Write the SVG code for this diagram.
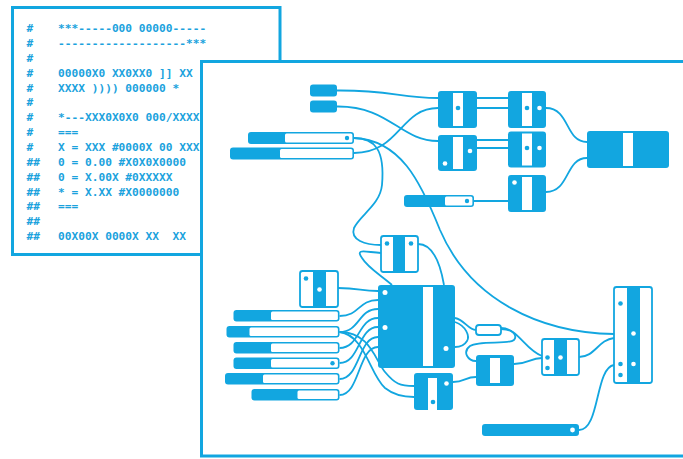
<svg xmlns="http://www.w3.org/2000/svg" width="683" height="459" viewBox="0 0 683 459">
<style>
.panel{fill:#fff;stroke:#12a6e0;stroke-width:3}
.t{font-family:"DejaVu Sans Mono","Liberation Mono",monospace;font-size:11.2px;font-weight:bold;fill:#1ba2dd;white-space:pre}
.w{fill:none;stroke:#12a6e0;stroke-width:1.8}
.f{fill:#12a6e0}
.o{fill:#fff;stroke:#12a6e0;stroke-width:1.8}
.s{fill:#fff}
.d{fill:#12a6e0}
</style>
<rect class="panel" x="12.5" y="7.5" width="267.5" height="247"/>
<g id="code">
<text class="t" x="26.5" y="32.1">#</text><text class="t" x="58" y="32.1">***-----000 00000-----</text>
<text class="t" x="26.5" y="47">#</text><text class="t" x="58" y="47">-------------------***</text>
<text class="t" x="26.5" y="61.8">#</text>
<text class="t" x="26.5" y="76.7">#</text><text class="t" x="58" y="76.7">00000X0 XX0XX0 ]] XX</text>
<text class="t" x="26.5" y="91.5">#</text><text class="t" x="58" y="91.5">XXXX )))) 000000 *</text>
<text class="t" x="26.5" y="106.4">#</text>
<text class="t" x="26.5" y="121.3">#</text><text class="t" x="58" y="121.3">*---XXX0X0X0 000/XXXX</text>
<text class="t" x="26.5" y="136.1">#</text><text class="t" x="58" y="136.1">===</text>
<text class="t" x="26.5" y="151">#</text><text class="t" x="58" y="151">X = XXX #0000X 00 XXX</text>
<text class="t" x="26.5" y="165.8">##</text><text class="t" x="58" y="165.8">0 = 0.00 #X0X0X0000</text>
<text class="t" x="26.5" y="180.7">##</text><text class="t" x="58" y="180.7">0 = X.00X #0XXXXX</text>
<text class="t" x="26.5" y="195.6">##</text><text class="t" x="58" y="195.6">* = X.XX #X0000000</text>
<text class="t" x="26.5" y="210.4">##</text><text class="t" x="58" y="210.4">===</text>
<text class="t" x="26.5" y="225.3">##</text>
<text class="t" x="26.5" y="240.1">##</text><text class="t" x="58" y="240.1">00X00X 0000X XX  XX</text>
</g>
<rect class="panel" x="201.5" y="61.5" width="500" height="394.5"/>
<g id="connectors">
<path class="w" d="M337,90.5 C390,90 400,98 438,98"/>
<path class="w" d="M337,106.5 C390,106 400,141 438,141"/>
<path class="w" d="M354,153 C400,153 400,108 438,108"/>
<path class="w" d="M477,98 H508 M477,108 H508"/>
<path class="w" d="M477,140 H508 M477,148 H508"/>
<path class="w" d="M546,108 C570,108 565,142 587,142"/>
<path class="w" d="M546,192 C570,192 565,158 587,158"/>
<path class="w" d="M474,201 H508"/>
<path class="w" d="M354,138 C375,138 385,150 382,185 C380,205 360,215 354,228 C350,240 365,245 381,245"/>
<path class="w" d="M381,253 C365,252 355,248 362,258 C368,268 382,276 392,285"/>
<path class="w" d="M418,244 C432,244 440,262 444,285"/>
<path class="w" d="M354,138 C400,140 420,180 440,230 C470,300 540,333 614,334"/>
<path class="w" d="M338,288 C360,288 360,291 378,291"/>
<path class="w" d="M339.5,316 C360,316 358,300 378,300"/>
<path class="w" d="M339.5,332 C360,332 358,309 378,309"/>
<path class="w" d="M339.5,348 C360,348 358,318 378,318"/>
<path class="w" d="M339.5,363 C360,363 358,327 378,327"/>
<path class="w" d="M339.5,379 C360,379 358,337 378,337"/>
<path class="w" d="M339.5,395 C360,395 358,347 378,347"/>
<path class="w" d="M339.5,332 C370,332 375,360 385,372 C395,384 400,386 414,386"/>
<path class="w" d="M339.5,332 C365,335 370,375 385,388 C395,396 405,397 414,397"/>
<path class="w" d="M455,318 C465,320 468,330 476,330"/>
<path class="w" d="M455,322 C466,326 470,336 467,341 C464,346 459,347 455,347"/>
<path class="w" d="M501,328 C518,328 525,350 542,356"/>
<path class="w" d="M501,329 C512,329 518,335 514,340 C508,345 480,340 470,346 C462,352 468,361 476,361"/>
<path class="w" d="M514,364 C528,364 530,358 542,358"/>
<path class="w" d="M453,382 C465,382 465,377 476,377"/>
<path class="w" d="M579,357 C595,357 598,340 614,338"/>
<path class="w" d="M579,430 C600,430 595,368 614,365"/>
</g>
<g id="p1"><rect class="f" x="310" y="84.5" width="27" height="12" rx="3"/></g>
<g id="p2"><rect class="f" x="310" y="100.5" width="27" height="12" rx="3"/></g>
<g id="slider1"><rect class="f" x="248" y="132" width="106" height="12" rx="3"/><rect class="s" x="285" y="133.6" width="67.4" height="8.8" rx="1.5"/><circle class="d" cx="347" cy="138" r="2.2"/></g>
<g id="slider2"><rect class="f" x="230" y="147.5" width="124" height="12" rx="3"/><rect class="s" x="280" y="149.1" width="72.4" height="8.8" rx="1.5"/></g>
<g id="slider3"><rect class="f" x="404" y="195" width="70" height="12" rx="3"/><rect class="s" x="445" y="196.6" width="27.4" height="8.8" rx="1.5"/><circle class="d" cx="467" cy="201" r="2.2"/></g>
<g id="nodeA"><rect class="f" x="438" y="91" width="39" height="37" rx="3"/><rect class="s" x="453" y="93" width="10" height="33"/><circle class="d" cx="458" cy="108" r="2.3"/></g>
<g id="nodeB"><rect class="f" x="508" y="91" width="38" height="37" rx="3"/><rect class="s" x="522" y="93" width="10" height="33"/><circle class="d" cx="527" cy="108" r="2.3"/><circle class="s" cx="539.5" cy="108" r="2.3"/></g>
<g id="nodeC"><rect class="f" x="438" y="135" width="39" height="36" rx="3"/><rect class="s" x="453" y="137" width="10" height="32"/><circle class="s" cx="470" cy="151" r="2.3"/><circle class="s" cx="445" cy="163.5" r="2.3"/></g>
<g id="nodeD"><rect class="f" x="508" y="131.5" width="38" height="36" rx="3"/><rect class="s" x="522" y="133.5" width="10" height="32"/><circle class="d" cx="527" cy="148" r="2.3"/><circle class="s" cx="539.5" cy="148" r="2.3"/></g>
<g id="nodeE"><rect class="f" x="508" y="175" width="38" height="37" rx="3"/><rect class="s" x="522" y="177" width="10" height="33"/><circle class="s" cx="514.5" cy="182.5" r="2.3"/></g>
<g id="nodeF"><rect class="f" x="587" y="131" width="82" height="37" rx="3"/><rect class="s" x="623" y="133" width="10" height="33"/></g>
<g id="nodeG"><rect class="o" x="381" y="236" width="37" height="36" rx="2.5"/><rect class="f" x="393" y="236" width="12" height="36"/><circle class="d" cx="387" cy="243.5" r="2.3"/><circle class="d" cx="411" cy="243.5" r="2.3"/></g>
<g id="nodeI"><rect class="o" x="300" y="271" width="38" height="36" rx="2.5"/><rect class="f" x="313" y="271" width="13" height="36"/><circle class="d" cx="306" cy="278.5" r="2.3"/><circle class="s" cx="319.5" cy="289.5" r="2.3"/></g>
<g id="nodeH"><rect class="f" x="378" y="285" width="77" height="83" rx="3"/><rect class="s" x="423" y="287" width="10" height="79"/><circle class="s" cx="385" cy="292.5" r="2.5"/><circle class="s" cx="385" cy="327.5" r="2.5"/><circle class="s" cx="446" cy="348.5" r="2.5"/></g>
<g id="s1"><rect class="f" x="233.5" y="310" width="106" height="11.5" rx="3"/><rect class="s" x="271" y="311.6" width="66.9" height="8.3" rx="1.5"/></g>
<g id="s2"><rect class="f" x="226.5" y="326" width="113" height="11.5" rx="3"/><rect class="s" x="249.5" y="327.6" width="88.4" height="8.3" rx="1.5"/></g>
<g id="s3"><rect class="f" x="233.5" y="342" width="106" height="11.5" rx="3"/><rect class="s" x="271" y="343.6" width="66.9" height="8.3" rx="1.5"/></g>
<g id="s4"><rect class="f" x="233.5" y="357.5" width="106" height="11.5" rx="3"/><rect class="s" x="271" y="359.1" width="66.9" height="8.3" rx="1.5"/><circle class="d" cx="332.5" cy="363.2" r="2.2"/></g>
<g id="s5"><rect class="f" x="225" y="373" width="114.5" height="11.5" rx="3"/><rect class="s" x="263" y="374.6" width="74.9" height="8.3" rx="1.5"/></g>
<g id="s6"><rect class="f" x="251.5" y="389" width="88" height="11.5" rx="3"/><rect class="s" x="297.5" y="390.6" width="40.4" height="8.3" rx="1.5"/></g>
<g id="nodeJ"><rect class="f" x="414" y="373" width="39" height="37" rx="3"/><rect class="s" x="428" y="378" width="9" height="32"/><circle class="s" cx="446.5" cy="383.5" r="2.3"/><circle class="d" cx="433" cy="402" r="2.3"/></g>
<g id="nodeL"><rect class="o" x="476" y="325" width="25" height="10" rx="3"/></g>
<g id="nodeK"><rect class="f" x="476" y="355" width="38" height="31" rx="3"/><rect class="s" x="490" y="358" width="10" height="25"/></g>
<g id="nodeM"><rect class="o" x="542" y="339" width="37" height="36" rx="2.5"/><rect class="f" x="554" y="339" width="13" height="36"/><circle class="d" cx="547.5" cy="357.5" r="2.3"/><circle class="d" cx="547.5" cy="368" r="2.3"/><circle class="s" cx="560.5" cy="357.5" r="2.3"/></g>
<g id="nodeN"><rect class="o" x="614" y="287" width="38" height="96" rx="2.5"/><rect class="f" x="627" y="287" width="13" height="96"/><circle class="d" cx="620.5" cy="303.5" r="2.3"/><circle class="s" cx="633.5" cy="333.5" r="2.3"/><circle class="d" cx="620.5" cy="364" r="2.3"/><circle class="s" cx="633.5" cy="364" r="2.3"/><circle class="d" cx="620.5" cy="375" r="2.3"/></g>
<g id="sliderO"><rect class="f" x="482" y="424" width="97" height="12" rx="3"/><circle class="s" cx="572.5" cy="430" r="2.4"/></g>
</svg>
